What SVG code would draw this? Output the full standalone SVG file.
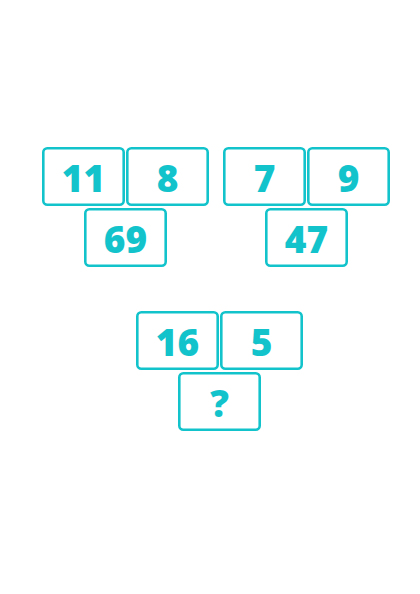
<svg xmlns="http://www.w3.org/2000/svg" width="420" height="594" viewBox="0 0 420 594">
<style>
.b{fill:#fff;stroke:#13C3CC;stroke-width:2.6}
.t{fill:#13C3CC;font-family:"Open Sans","DejaVu Sans",sans-serif;font-weight:800;font-size:37px;text-anchor:middle}
</style>
<rect width="420" height="594" fill="#fff"/>
<g id="g1">
<g id="n11"><rect class="b" x="43.3" y="148.3" width="80.4" height="56.4" rx="4"/><text class="t" x="83.5" y="192">11</text></g>
<g id="n8"><rect class="b" x="127.3" y="148.3" width="80.4" height="56.4" rx="4"/><text class="t" x="167.5" y="192">8</text></g>
<g id="n69"><rect class="b" x="85.3" y="209.3" width="80.4" height="56.4" rx="4"/><text class="t" x="125.5" y="253">69</text></g>
</g>
<g id="g2">
<g id="n7"><rect class="b" x="224.3" y="148.3" width="80.4" height="56.4" rx="4"/><text class="t" x="264.5" y="192">7</text></g>
<g id="n9"><rect class="b" x="308.3" y="148.3" width="80.4" height="56.4" rx="4"/><text class="t" x="348.5" y="192">9</text></g>
<g id="n47"><rect class="b" x="266.3" y="209.3" width="80.4" height="56.4" rx="4"/><text class="t" x="306.5" y="253">47</text></g>
</g>
<g id="g3">
<g id="n16"><rect class="b" x="137.3" y="312.3" width="80.4" height="56.4" rx="4"/><text class="t" x="177.5" y="356">16</text></g>
<g id="n5"><rect class="b" x="221.3" y="312.3" width="80.4" height="56.4" rx="4"/><text class="t" x="261.5" y="356">5</text></g>
<g id="nq"><rect class="b" x="179.3" y="373.3" width="80.4" height="56.4" rx="4"/><text class="t" x="219.5" y="417">?</text></g>
</g>
<g id="connectors"/>
</svg>
